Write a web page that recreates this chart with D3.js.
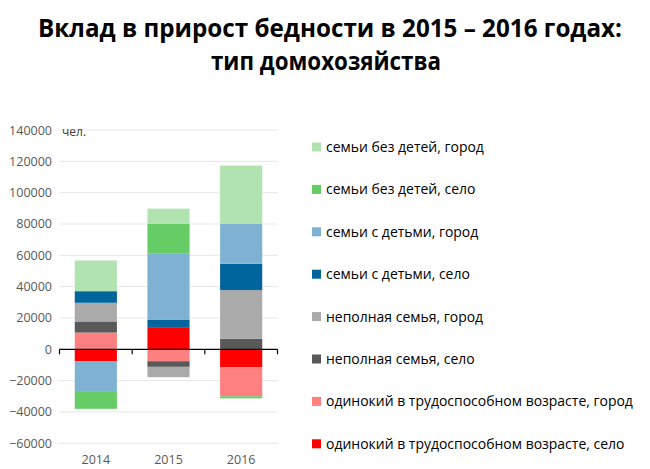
<!DOCTYPE html>
<html><head><meta charset="utf-8">
<script src="https://cdn.jsdelivr.net/npm/d3@7"></script>
<style>body{margin:0;background:#fff}svg{display:block}</style>
</head><body>
<svg id="c" width="650" height="469"></svg>
<script>
const years = ["2014", "2015", "2016"];
// series in stacking order (first = closest to zero)
const seriesNames = [
  "одинокий в трудоспособном возрасте, село",
  "одинокий в трудоспособном возрасте, город",
  "неполная семья, село",
  "неполная семья, город",
  "семьи с детьми, село",
  "семьи с детьми, город",
  "семьи без детей, село",
  "семьи без детей, город"
];
const seriesColors = ["#ff0000", "#ff8080", "#595959", "#aaaaaa", "#00659c", "#7fb2d2", "#66cc66", "#b1e3b1"];
const v_single_rural = [-7600, 13700, -11400];
const v_single_urban = [10700, -7600, -18600];
const v_incomplete_rural = [7100, -3600, 6700];
const v_incomplete_urban = [11900, -6600, 31100];
const v_children_rural = [7400, 5300, 16800];
const v_children_urban = [-19600, 42000, 25600];
const v_nochild_rural = [-10800, 19200, -1300];
const v_nochild_urban = [19600, 9600, 37100];
const seriesValues = [v_single_rural, v_single_urban, v_incomplete_rural, v_incomplete_urban,
  v_children_rural, v_children_urban, v_nochild_rural, v_nochild_urban];
const yTicks = [-60000, -40000, -20000, 0, 20000, 40000, 60000, 80000, 100000, 120000, 140000];
const titleLines = ["Вклад в прирост бедности в 2015 – 2016 годах:", "тип домохозяйства"];
const unitLabel = "чел.";

const svg = d3.select("#c");
const font = "'Open Sans', 'Noto Sans', sans-serif";

// title
const titleSpecs = [{ x: 330, y: 36.5, w: 584 }, { x: 326, y: 69.5, w: 230 }];
titleLines.forEach((t, i) => {
  const s = titleSpecs[i];
  const tx = svg.append("text").attr("x", s.x).attr("y", s.y)
    .attr("text-anchor", "middle").attr("font-family", font)
    .attr("font-weight", "bold").attr("font-size", 25).attr("fill", "#000").text(t);
  tx.attr("textLength", s.w).attr("lengthAdjust", "spacingAndGlyphs");
});

const x = d3.scaleBand().domain(years).range([59.5, 277.5]).paddingInner(0.42).paddingOuter(0.21);
const y = d3.scaleLinear().domain([-60000, 140000]).range([443.3, 130]);

// gridlines
svg.append("g").selectAll("line").data(yTicks.filter(d => d !== 0)).join("line")
  .attr("x1", 59.5).attr("x2", 277.5)
  .attr("y1", d => y(d)).attr("y2", d => y(d))
  .attr("stroke", "#e6e6e6").attr("stroke-width", 1);

// y axis labels
svg.append("g").selectAll("text").data(yTicks).join("text")
  .attr("x", 52).attr("y", d => y(d) + 4.5).attr("text-anchor", "end")
  .attr("font-family", font).attr("font-size", 12.5).attr("fill", "#595959")
  .text(d => d3.format("d")(d));

svg.append("text").attr("x", 62).attr("y", 136).attr("font-family", font)
  .attr("font-size", 12).attr("fill", "#404040").text(unitLabel);

// stacked bars
years.forEach((yr, yi) => {
  let pos = 0, neg = 0;
  seriesValues.forEach((vals, si) => {
    const v = vals[yi];
    let y0, y1;
    if (v >= 0) { y0 = pos; y1 = pos + v; pos = y1; }
    else { y0 = neg; y1 = neg + v; neg = y1; }
    svg.append("rect")
      .attr("x", x(yr)).attr("width", x.bandwidth())
      .attr("y", y(Math.max(y0, y1))).attr("height", Math.abs(y(y0) - y(y1)))
      .attr("fill", seriesColors[si]);
  });
});

// zero axis
const ax = svg.append("g").attr("transform", `translate(0,${y(0)})`);
ax.append("line").attr("x1", 59.5).attr("x2", 277.5).attr("stroke", "#000").attr("stroke-width", 1.3);
const bounds = [59.5, x("2015") - x.step() * x.paddingInner() / 2, x("2016") - x.step() * x.paddingInner() / 2, 277.5];
ax.selectAll(".tk").data(bounds).join("line").attr("class", "tk")
  .attr("x1", d => d).attr("x2", d => d).attr("y1", 0).attr("y2", 5)
  .attr("stroke", "#000").attr("stroke-width", 1.2);

// x labels
svg.append("g").selectAll("text").data(years).join("text")
  .attr("x", d => x(d) + x.bandwidth() / 2).attr("y", 464)
  .attr("text-anchor", "middle").attr("font-family", font)
  .attr("font-size", 12.5).attr("fill", "#595959").text(d => d);

// legend (reverse order)
const legendItems = seriesNames.map((n, i) => ({ n, c: seriesColors[i] })).reverse();
const lg = svg.append("g");
// pick font size so the longest entry is ~307px wide
const probe = svg.append("text").attr("font-family", font).attr("font-size", 15)
  .text(seriesNames.reduce((a, b) => a.length > b.length ? a : b));
const lw = probe.node().getComputedTextLength();
probe.remove();
const lfs = 15 * 307 / lw;
legendItems.forEach((d, i) => {
  const cy = 147 + i * 42.4;
  lg.append("rect").attr("x", 312).attr("y", cy - 4.5).attr("width", 9).attr("height", 9).attr("fill", d.c);
  lg.append("text").attr("x", 326).attr("y", cy + lfs * 0.36).attr("font-family", font)
    .attr("font-size", lfs).attr("fill", "#000").text(d.n);
});
</script>
</body></html>
